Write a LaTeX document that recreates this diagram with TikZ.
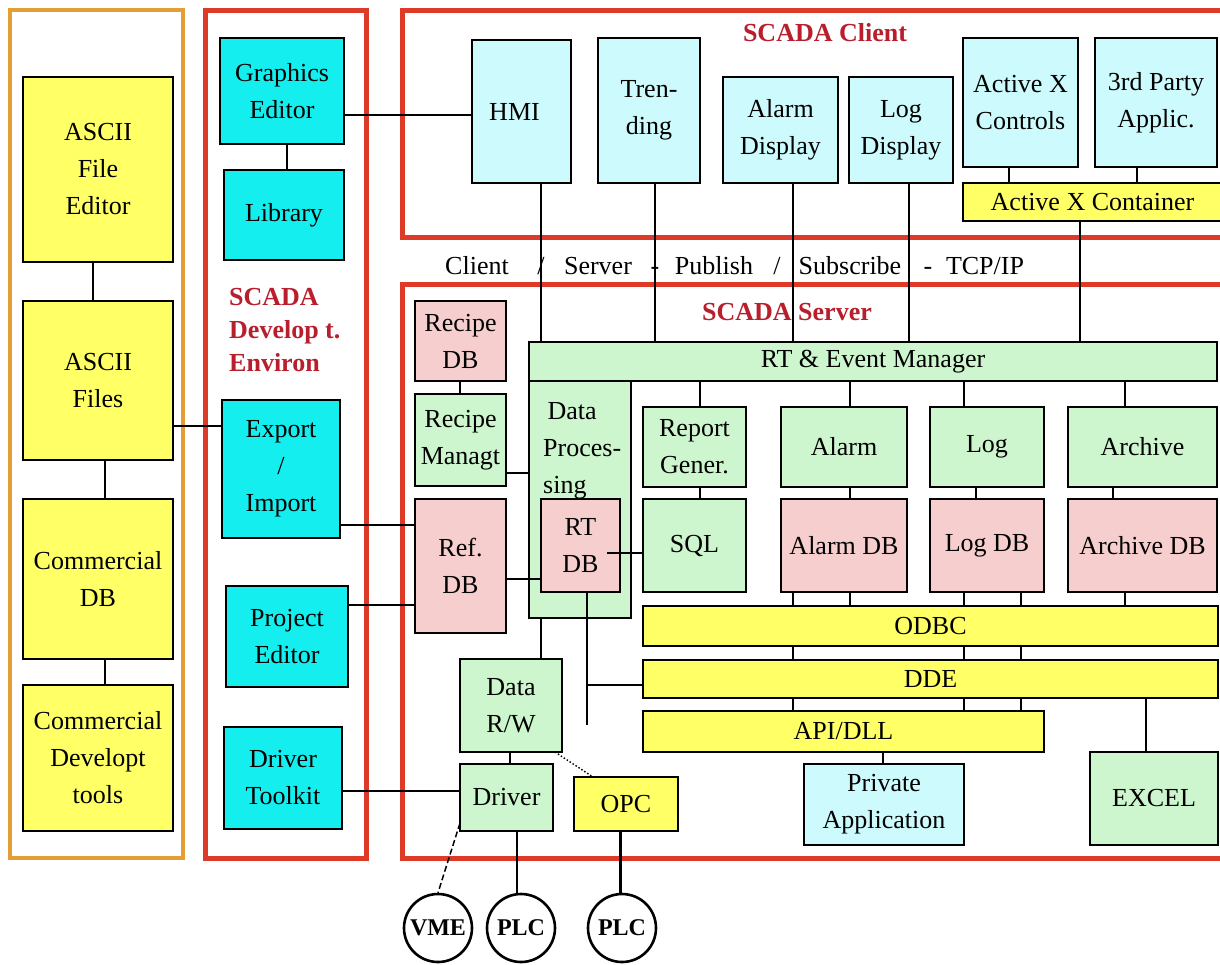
\documentclass[tikz,border=0pt]{standalone}
\usepackage{fontspec}
\setmainfont{Liberation Serif}
\definecolor{ycol}{RGB}{255,255,102}
\definecolor{cyancol}{RGB}{20,238,238}
\definecolor{lcyan}{RGB}{205,250,252}
\definecolor{lgreen}{RGB}{206,246,206}
\definecolor{pinkcol}{RGB}{246,206,206}
\definecolor{framered}{RGB}{222,58,40}
\definecolor{frameorange}{RGB}{228,158,52}
\definecolor{titlered}{RGB}{185,30,45}
\tikzset{
  box/.style={draw=black, line width=1.6pt, inner sep=0pt, outer sep=0pt, align=center,
    font=\fontsize{26}{37}\selectfont},
  ybox/.style={box, fill=ycol},
  dbox/.style={box, fill=cyancol},
  cbox/.style={box, fill=lcyan},
  gbox/.style={box, fill=lgreen},
  pbox/.style={box, fill=pinkcol},
  conn/.style={draw=black, line width=1.5pt},
  redframe/.style={draw=framered, line width=5pt},
  orangeframe/.style={draw=frameorange, line width=4.5pt},
  titletext/.style={text=titlered, font=\fontsize{26}{33}\selectfont\bfseries, inner sep=0pt},
  bustext/.style={font=\fontsize{26}{30}\selectfont, inner sep=0pt, anchor=base},
  circ/.style={circle, draw=black, line width=2.6pt, minimum size=68pt, inner sep=0pt,
    fill=white, font=\fontsize{24}{26}\selectfont\bfseries},
}
\newcommand{\bx}[7]{\node[#1, minimum width={(#5-#3)*1pt}, minimum height={(#6-#4)*1pt}] (#2) at ({(#3+#5)/2},{(#4+#6)/2}) {#7};}
\begin{document}
\begin{tikzpicture}[x=1pt,y=-1pt]
\useasboundingbox (0,0) rectangle (1220,964);
\clip (0,0) rectangle (1220,964);
\fill[white] (0,0) rectangle (1220,964);

% frames
\draw[orangeframe] (10,10) rectangle (183,858);
\draw[redframe] (205,10) rectangle (366,858);
\draw[redframe] (402,10) rectangle (1240,237);
\draw[redframe] (402,284) rectangle (1240,858);

% left column
\bx{ybox}{asciied}{23}{77}{173}{262}{ASCII\\File\\Editor}
\bx{ybox}{asciif}{23}{301}{173}{460}{ASCII\\Files}
\bx{ybox}{comdb}{23}{499}{173}{659}{Commercial\\DB}
\bx{ybox}{comdev}{23}{685}{173}{831}{Commercial\\Developt\\tools}

% development environment
\bx{dbox}{graph}{220}{38}{344}{144}{Graphics\\Editor}
\bx{dbox}{lib}{224}{170}{344}{260}{Library}
\bx{dbox}{export}{222}{400}{340}{538}{Export\\/\\Import}
\bx{dbox}{proj}{226}{586}{348}{687}{Project\\Editor}
\bx{dbox}{drvtk}{224}{727}{342}{829}{Driver\\Toolkit}
\node[titletext, align=left, anchor=west] (devlabel) at (229,330) {SCADA\\Develop t.\\Environ};

% client
\node[titletext] (clienttitle) at (825,33) {SCADA Client};
\bx{cbox}{hmi}{472}{40}{571}{183}{HMI\hspace{14pt}}
\bx{cbox}{trend}{598}{38}{700}{183}{Tren-\\ding}
\bx{cbox}{almdisp}{723}{77}{838}{183}{Alarm\\Display}
\bx{cbox}{logdisp}{849}{77}{953}{183}{Log\\Display}
\bx{cbox}{axc}{963}{38}{1078}{167}{Active X\\Controls}
\bx{cbox}{third}{1095}{38}{1217}{167}{3rd Party\\Applic.}
\bx{ybox}{axcont}{963}{183}{1222}{221}{Active X Container}

% bus text
\node[bustext] (cs1) at (477,274) {Client};
\node[bustext] (cs2) at (541,274) {/};
\node[bustext] (cs3) at (598,274) {Server};
\node[bustext] (cs4) at (655,274) {-};
\node[bustext] (cs5) at (714,274) {Publish};
\node[bustext] (cs6) at (777,274) {/};
\node[bustext] (cs7) at (850,274) {Subscribe};
\node[bustext] (cs8) at (928,274) {-};
\node[bustext] (cs9) at (985,274) {TCP/IP};

% server
\node[titletext] (servertitle) at (787,312) {SCADA Server};
\bx{pbox}{recdb}{415}{301}{506}{381}{Recipe\\DB}
\bx{gbox}{recman}{415}{394}{506}{486}{Recipe\\Managt}
\bx{pbox}{refdb}{415}{499}{506}{633}{Ref.\\DB}
\bx{gbox}{rtem}{529}{342}{1217}{381}{RT \& Event Manager}
\bx{gbox}{dataproc}{529}{381}{631}{618}{}
\node[anchor=north west, inner sep=0pt, align=left, font=\fontsize{26}{37}\selectfont] (dptext) at (543,402) {\,Data\\Proces-\\sing};
\bx{gbox}{report}{643}{407}{746}{487}{Report\\Gener.}
\bx{gbox}{sql}{643}{499}{746}{592}{SQL}
\bx{pbox}{rtdb}{541}{499}{620}{592}{RT\\DB}
\bx{gbox}{alarm}{781}{407}{907}{487}{Alarm}
\bx{gbox}{log}{930}{407}{1044}{487}{Log}
\bx{gbox}{archive}{1068}{407}{1217}{487}{Archive}
\bx{pbox}{alarmdb}{781}{499}{907}{592}{Alarm DB}
\bx{pbox}{logdb}{930}{499}{1044}{592}{Log DB}
\bx{pbox}{archivedb}{1068}{499}{1217}{592}{Archive DB}
\bx{ybox}{odbc}{643}{606}{1218}{646}{ODBC}
\bx{ybox}{dde}{643}{660}{1218}{698}{DDE}
\bx{ybox}{api}{643}{711}{1044}{752}{API/DLL}
\bx{gbox}{datarw}{460}{659}{562}{752}{Data\\R/W}
\bx{gbox}{driver}{460}{764}{553}{831}{Driver}
\bx{ybox}{opc}{574}{777}{678}{831}{OPC}
\bx{cbox}{priv}{804}{764}{964}{845}{Private\\Application}
\bx{gbox}{excel}{1090}{752}{1218}{845}{EXCEL}

% field devices
\node[circ] (vme) at (438,928) {VME};
\node[circ] (plc1) at (521,928) {PLC};
\node[circ] (plc2) at (622,928) {PLC};

% connectors - left
\draw[conn] (93,0 |- asciied.south) -- (93,0 |- asciif.north);
\draw[conn] (105,0 |- asciif.south) -- (105,0 |- comdb.north);
\draw[conn] (105,0 |- comdb.south) -- (105,0 |- comdev.north);
\draw[conn] (asciif.east |- 0,426) -- (export.west |- 0,426);
\draw[conn] (287,0 |- graph.south) -- (287,0 |- lib.north);
\draw[conn] (graph.east |- 0,115) -- (hmi.west |- 0,115);
\draw[conn] (export.east |- 0,525) -- (refdb.west |- 0,525);
\draw[conn] (proj.east |- 0,605) -- (refdb.west |- 0,605);
\draw[conn] (drvtk.east |- 0,791) -- (driver.west |- 0,791);

% client to server
\draw[conn] (541,0 |- hmi.south) -- (541,0 |- rtem.north);
\draw[conn] (655,0 |- trend.south) -- (655,0 |- rtem.north);
\draw[conn] (793,0 |- almdisp.south) -- (793,0 |- rtem.north);
\draw[conn] (909,0 |- logdisp.south) -- (909,0 |- rtem.north);
\draw[conn] (1009,0 |- axc.south) -- (1009,0 |- axcont.north);
\draw[conn] (1137,0 |- third.south) -- (1137,0 |- axcont.north);
\draw[conn] (1080,0 |- axcont.south) -- (1080,0 |- rtem.north);

% server internals
\draw[conn] (460,0 |- recdb.south) -- (460,0 |- recman.north);
\draw[conn] (recman.east |- 0,473) -- (dataproc.west |- 0,473);
\draw[conn] (refdb.east |- 0,579) -- (rtdb.west |- 0,579);
\coordinate (sqlend) at (607,553);
\draw[conn] (sql.west |- sqlend) -- (sqlend);
\draw[conn] (700,0 |- rtem.south) -- (700,0 |- report.north);
\draw[conn] (700,0 |- report.south) -- (700,0 |- sql.north);
\draw[conn] (850,0 |- rtem.south) -- (850,0 |- alarm.north);
\draw[conn] (964,0 |- rtem.south) -- (964,0 |- log.north);
\draw[conn] (1125,0 |- rtem.south) -- (1125,0 |- archive.north);
\draw[conn] (850,0 |- alarm.south) -- (850,0 |- alarmdb.north);
\draw[conn] (976,0 |- log.south) -- (976,0 |- logdb.north);
\draw[conn] (1113,0 |- archive.south) -- (1113,0 |- archivedb.north);
\draw[conn] (793,0 |- alarmdb.south) -- (793,0 |- odbc.north);
\draw[conn] (850,0 |- alarmdb.south) -- (850,0 |- odbc.north);
\draw[conn] (964,0 |- logdb.south) -- (964,0 |- odbc.north);
\draw[conn] (1021,0 |- logdb.south) -- (1021,0 |- odbc.north);
\draw[conn] (1125,0 |- archivedb.south) -- (1125,0 |- odbc.north);
\foreach \xx in {793,964,1021}{
  \draw[conn] (\xx,0 |- odbc.south) -- (\xx,0 |- dde.north);
  \draw[conn] (\xx,0 |- dde.south) -- (\xx,0 |- api.north);
}
\coordinate (rtdbend) at (587,725);
\draw[conn] (587,0 |- rtdb.south) -- (rtdbend);
\draw[conn] (rtdbend |- 0,685) -- (dde.west |- 0,685);
\draw[conn] (541,0 |- dataproc.south) -- (541,0 |- datarw.north);
\draw[conn] (510,0 |- datarw.south) -- (510,0 |- driver.north);
\draw[conn, dotted, line width=1.4pt] ([xshift=-7pt]datarw.south east) -- (593,0 |- opc.north);
\draw[conn] (883,0 |- api.south) -- (883,0 |- priv.north);
\draw[conn] (1146,0 |- dde.south) -- (1146,0 |- excel.north);

% to field devices
\draw[conn] (517,0 |- driver.south) -- (517,0 |- plc1.north);
\draw[conn, line width=3pt] (620,0 |- opc.south) -- (620,0 |- plc2.north);
\draw[conn, dash pattern=on 6pt off 3pt] (driver.west |- 0,823) -- (vme.north);
\end{tikzpicture}
\end{document}
